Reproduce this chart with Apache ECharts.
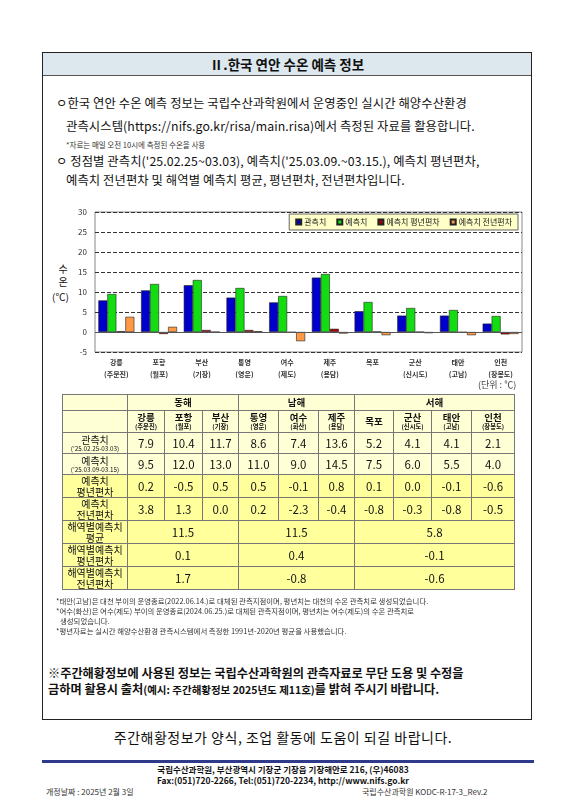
<!DOCTYPE html>
<html><head><meta charset="utf-8">
<script src="https://cdn.jsdelivr.net/npm/echarts@6/dist/echarts.min.js"></script>
<style>
body{margin:0;width:566px;height:800px;background:#fff;font-family:"Noto Sans CJK KR","Noto Sans",sans-serif;color:#111;position:relative;overflow:hidden}
.abs{position:absolute}
#box{left:42px;top:52px;width:490px;height:668px;border:1.5px solid #222;box-sizing:border-box}
#title{left:43px;top:53px;width:488px;height:22px;background:#dde7ee;border-bottom:1px solid #555;text-align:center;font-size:13.5px;font-weight:bold;line-height:22px}
.t{font-size:12.3px;white-space:nowrap;letter-spacing:0.1px}
table{border-collapse:collapse;font-size:11.5px;table-layout:fixed}
td{border:1px solid #777;text-align:center;padding:0;line-height:1.1}
.y1{background:#ffffd6}.y2{background:#ffff9c}
.lab{font-size:10px;line-height:11px;white-space:nowrap}
.sm{font-size:6.3px;display:block;line-height:8px;white-space:nowrap}
.hd{font-size:9.5px;font-weight:bold;line-height:11px}
.fn{font-size:7.4px;white-space:nowrap;color:#333}
</style></head><body>
<div id="box" class="abs"></div>
<div id="title" class="abs">Ⅱ.한국 연안 수온 예측 정보</div>
<div class="abs t" style="left:56px;top:94px">ㅇ한국 연안 수온 예측 정보는 국립수산과학원에서 운영중인 실시간 해양수산환경</div>
<div class="abs t" style="left:66px;top:117px">관측시스템(https://nifs.go.kr/risa/main.risa)에서 측정된 자료를 활용합니다.</div>
<div class="abs" style="left:66px;top:139px;font-size:7.5px;color:#333">*자료는 매일 오전 10시에 측정된 수온을 사용</div>
<div class="abs t" style="left:56px;top:152px">ㅇ 정점별 관측치('25.02.25~03.03), 예측치('25.03.09.~03.15.), 예측치 평년편차,</div>
<div class="abs t" style="left:66px;top:171px">예측치 전년편차 및 해역별 예측치 평균, 평년편차, 전년편차입니다.</div>
<div class="abs" style="left:56px;top:262px;font-size:10px;line-height:13px;text-align:center;width:14px">수<br>온</div>
<div class="abs" style="left:52px;top:289px;font-size:10px">(℃)</div>
<div id="chart" class="abs" style="left:65px;top:200px;width:465px;height:180px"></div>
<div class="abs" style="left:478px;top:378px;font-size:9px;color:#444">(단위 : ℃)</div>
<div id="tbl" class="abs" style="left:62px;top:394px"></div>
<div class="abs fn" style="left:56px;top:595px">*태안(고남)은 대천 부이의 운영종료(2022.06.14.)로 대체된 관측지점이며, 평년치는 대천의 수온 관측치로 생성되었습니다.</div>
<div class="abs fn" style="left:56px;top:605px">*여수(화산)은 여수(제도) 부이의 운영종료(2024.06.25.)로 대체된 관측지점이며, 평년치는 여수(제도)의 수온 관측치로</div>
<div class="abs fn" style="left:60px;top:615px">생성되었습니다.</div>
<div class="abs fn" style="left:56px;top:625px">*평년자료는 실시간 해양수산환경 관측시스템에서 측정한 1991년-2020년 평균을 사용했습니다.</div>
<div class="abs" style="left:48px;top:664px;font-size:12.2px;font-weight:bold;white-space:nowrap">※주간해황정보에 사용된 정보는 국립수산과학원의 관측자료로 무단 도용 및 수정을</div>
<div class="abs" style="left:48px;top:680px;font-size:12.2px;font-weight:bold;white-space:nowrap">금하며 활용시 출처<span style="font-size:10.5px">(예시: 주간해황정보 2025년도 제11호)</span>를 밝혀 주시기 바랍니다.</div>
<div class="abs" style="left:0;width:566px;top:727px;text-align:center;font-size:14px;letter-spacing:0.5px">주간해황정보가 양식, 조업 활동에 도움이 되길 바랍니다.</div>
<div class="abs" style="left:42px;top:760px;width:492px;height:3px;background:#2f3a8a"></div>
<div class="abs" style="left:0;width:566px;top:764px;text-align:center;font-size:8.5px;font-weight:bold;line-height:11px">국립수산과학원, 부산광역시 기장군 기장읍 기장해안로 216, (우)46083<br>Fax:(051)720-2266, Tel:(051)720-2234, http://www.nifs.go.kr</div>
<div class="abs" style="left:46px;top:786px;font-size:8px;color:#333">개정날짜 : 2025년 2월 3일</div>
<div class="abs" style="left:362px;top:786px;font-size:8px;color:#333">국립수산과학원 KODC-R-17-3_Rev.2</div>
<script>
const stations=['강릉','포항','부산','통영','여수','제주','목포','군산','태안','인천'];
const subNames=['주문진','월포','기장','영운','화산','용담','','신시도','고남','장봉도'];
const chartSub=['주문진','월포','기장','영운','제도','용담','','신시도','고남','장봉도'];
const observed=[7.9,10.4,11.7,8.6,7.4,13.6,5.2,4.1,4.1,2.1];
const forecast=[9.5,12.0,13.0,11.0,9.0,14.5,7.5,6.0,5.5,4.0];
const devNormal=[0.2,-0.5,0.5,0.5,-0.1,0.8,0.1,0.0,-0.1,-0.6];
const devPrev=[3.8,1.3,0.0,0.2,-2.3,-0.4,-0.8,-0.3,-0.8,-0.5];
const seas=['동해','남해','서해'];
const seaSpan=[3,3,4];
const seaMean=['11.5','11.5','5.8'];
const seaDevNormal=['0.1','0.4','-0.1'];
const seaDevPrev=['1.7','-0.8','-0.6'];
const seriesNames=['관측치','예측치','예측치 평년편차','예측치 전년편차'];
const yTicks=[-5,0,5,10,15,20,25,30];

const colors=['#0000cc','#11dd11','#aa0000','#ff9944'];
const ch=echarts.init(document.getElementById('chart'));
const mk=(n,d,i)=>({name:n,type:'bar',data:d,barWidth:9,barGap:'0%',itemStyle:{color:colors[i],borderColor:'#222',borderWidth:0.6}});
const series=[mk(seriesNames[0],observed,0),mk(seriesNames[1],forecast,1),mk(seriesNames[2],devNormal,2),mk(seriesNames[3],devPrev,3)];
series[0].markLine={silent:true,symbol:'none',label:{show:false},lineStyle:{color:'#555',type:'solid',width:1},data:[{yAxis:0}]};
ch.setOption({
 animation:false,
 textStyle:{fontFamily:'Noto Sans CJK KR'},
 grid:{left:30,top:12,width:427,height:142,show:true,borderColor:'#888',borderWidth:1,backgroundColor:'#fff'},
 legend:{right:12,top:14,itemWidth:5,itemHeight:5,itemGap:10,backgroundColor:'#ffffc8',borderColor:'#666',borderWidth:1,padding:[4,6],textStyle:{fontSize:8,color:'#222',padding:[0,0,0,-2]},icon:'rect',data:seriesNames},
 xAxis:{type:'category',data:stations.map((s,i)=>s+'\n'+(chartSub[i]?'('+chartSub[i]+')':'')),axisTick:{show:false},axisLine:{show:false},
   axisLabel:{fontSize:7,fontWeight:'bold',color:'#333',lineHeight:12,margin:4}},
 yAxis:{type:'value',min:-5,max:30,interval:5,axisLine:{show:false},axisTick:{show:false},
   axisLabel:{fontSize:8,color:'#333',formatter:v=>yTicks.includes(v)?v:''},
   splitLine:{lineStyle:{color:'#333',type:'dashed',width:1}}},
 series
});

const widths=[65,37,38,36,40,40,36,39,38,40,43];
const f=v=>v.toFixed(1);
let h='<table style="width:'+widths.reduce((a,b)=>a+b,0)+'px"><colgroup>'+widths.map(w=>`<col style="width:${w}px">`).join('')+'</colgroup>';
h+='<tr class="y1" style="height:16px"><td></td>'+seas.map((s,i)=>`<td colspan="${seaSpan[i]}" class="hd">${s}</td>`).join('')+'</tr>';
h+='<tr class="y1" style="height:22px"><td></td>'+stations.map((s,i)=>`<td class="hd">${s}${subNames[i]?'<span class="sm">('+subNames[i]+')</span>':''}</td>`).join('')+'</tr>';
const row=(cls,label,arr)=>`<tr class="${cls}" style="height:21px"><td class="lab">${label}</td>`+arr.map(v=>`<td>${f(v)}</td>`).join('')+'</tr>';
h+=row('y1','관측치<span class="sm">(\'25.02.25-03.03)</span>',observed);
h+=row('y1','예측치<span class="sm">(\'25.03.09-03.15)</span>',forecast);
h+=row('y2','예측치<br>평년편차',devNormal);
h+=row('y2','예측치<br>전년편차',devPrev);
const srow=(label,arr)=>`<tr class="y2" style="height:23px"><td class="lab">${label}</td>`+arr.map((v,i)=>`<td colspan="${seaSpan[i]}">${v}</td>`).join('')+'</tr>';
h+=srow('해역별예측치<br>평균',seaMean);
h+=srow('해역별예측치<br>평년편차',seaDevNormal);
h+=srow('해역별예측치<br>전년편차',seaDevPrev);
h+='</table>';
document.getElementById('tbl').innerHTML=h;
</script>
</body></html>
